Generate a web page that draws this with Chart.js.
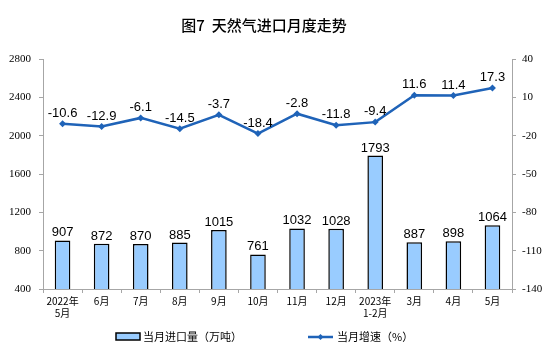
<!DOCTYPE html>
<html>
<head>
<meta charset="utf-8">
<script src="https://cdn.jsdelivr.net/npm/chart.js@4"></script>
<style>
  html, body { margin: 0; padding: 0; background: #fff; }
  #wrap { width: 550px; height: 354px; position: relative; }
</style>
</head>
<body>
<div id="wrap"><canvas id="myChart" width="550" height="354"></canvas></div>
<script>
const months = [['2022年','5月'], '6月', '7月', '8月', '9月', '10月', '11月', '12月', ['2023年','1-2月'], '3月', '4月', '5月'];
const imports = [907, 872, 870, 885, 1015, 761, 1032, 1028, 1793, 887, 898, 1064];
const growth = [-10.6, -12.9, -6.1, -14.5, -3.7, -18.4, -2.8, -11.8, -9.4, 11.6, 11.4, 17.3];
const leftTicks = [400, 800, 1200, 1600, 2000, 2400, 2800];
const rightTicks = [-140, -110, -80, -50, -20, 10, 40];

const barColor = '#99CCFF';
const lineColor = '#1F63B8';

// labels above the bars and points
const valueLabels = {
  id: 'valueLabels',
  afterDatasetsDraw(chart) {
    const ctx = chart.ctx;
    ctx.save();
    ctx.fillStyle = '#000';
    ctx.font = '13px "Liberation Sans", Arial, sans-serif';
    ctx.textAlign = 'center';
    ctx.textBaseline = 'alphabetic';
    chart.getDatasetMeta(1).data.forEach((bar, i) => {
      ctx.fillText(imports[i], bar.x, bar.y - 4);
    });
    chart.getDatasetMeta(0).data.forEach((pt, i) => {
      ctx.fillText(growth[i].toFixed(1), pt.x, pt.y - 7);
    });
    ctx.restore();
  }
};

// title and legend drawn by hand
const extras = {
  id: 'extras',
  afterDraw(chart) {
    const ctx = chart.ctx;
    ctx.save();
    ctx.fillStyle = '#000';
    ctx.font = '500 15px "Noto Sans CJK SC", sans-serif';
    ctx.textAlign = 'center';
    ctx.textBaseline = 'middle';
    ctx.fillText('图7  天然气进口月度走势', 264, 25);

    // legend
    ctx.font = '11px "Noto Sans CJK SC", sans-serif';
    ctx.textAlign = 'left';
    ctx.fillStyle = barColor;
    ctx.fillRect(116, 333, 24, 7);
    ctx.strokeStyle = '#000';
    ctx.lineWidth = 1.5;
    ctx.strokeRect(116, 333, 24, 7);
    ctx.fillStyle = '#000';
    ctx.fillText('当月进口量（万吨）', 143, 337);

    ctx.strokeStyle = lineColor;
    ctx.lineWidth = 2.5;
    ctx.beginPath();
    ctx.moveTo(308, 337);
    ctx.lineTo(333, 337);
    ctx.stroke();
    ctx.fillStyle = lineColor;
    ctx.beginPath();
    ctx.moveTo(320.5, 334);
    ctx.lineTo(323.5, 337);
    ctx.lineTo(320.5, 340);
    ctx.lineTo(317.5, 337);
    ctx.closePath();
    ctx.fill();
    ctx.fillStyle = '#000';
    ctx.fillText('当月增速（%）', 337, 337);
    ctx.restore();
  }
};

const config = {
  type: 'bar',
  data: {
    labels: months,
    datasets: [{
      type: 'line',
      label: '当月增速（%）',
      data: growth,
      yAxisID: 'y1',
      borderColor: lineColor,
      backgroundColor: lineColor,
      borderWidth: 2.5,
      pointStyle: 'rectRot',
      pointRadius: 3.5,
      pointBorderWidth: 0,
      tension: 0,
      order: 0
    }, {
      type: 'bar',
      label: '当月进口量（万吨）',
      data: imports,
      yAxisID: 'y',
      backgroundColor: barColor,
      borderColor: '#000',
      borderWidth: 1.5,
      categoryPercentage: 1,
      barPercentage: 0.4,
      order: 1
    }]
  },
  options: {
    responsive: false,
    animation: false,
    events: [],
    layout: { padding: { top: 59, bottom: 30, left: 0, right: 0 } },
    plugins: {
      legend: { display: false },
      tooltip: { enabled: false }
    },
    scales: {
      x: {
        grid: { offset: true, drawOnChartArea: false, drawTicks: true, tickLength: 4, color: '#A6A6A6' },
        border: { color: '#A6A6A6', width: 1 },
        ticks: {
          color: '#000',
          font: { family: '"Noto Sans CJK SC", sans-serif', size: 10 },
          padding: 2,
          maxRotation: 0,
          autoSkip: false
        },
        afterFit(scale) { scale.height = 35; }
      },
      y: {
        position: 'left',
        min: 400,
        max: 2800,
        afterBuildTicks(scale) { scale.ticks = leftTicks.map(v => ({ value: v })); },
        grid: { drawOnChartArea: false, drawTicks: true, tickLength: 4, color: '#A6A6A6' },
        border: { color: '#A6A6A6', width: 1 },
        ticks: {
          color: '#000',
          font: { family: '"Liberation Serif", "Times New Roman", serif', size: 11 },
          padding: 8,
          callback: (v) => String(v)
        },
        afterFit(scale) { scale.width = 43; }
      },
      y1: {
        position: 'right',
        min: -140,
        max: 40,
        afterBuildTicks(scale) { scale.ticks = rightTicks.map(v => ({ value: v })); },
        grid: { drawOnChartArea: false, drawTicks: true, tickLength: 4, color: '#A6A6A6' },
        border: { color: '#A6A6A6', width: 1 },
        ticks: {
          color: '#000',
          font: { family: '"Liberation Serif", "Times New Roman", serif', size: 11 },
          padding: 6,
          callback: (v) => String(v)
        },
        afterFit(scale) { scale.width = 38; }
      }
    }
  },
  plugins: [valueLabels, extras]
};

const myChart = new Chart(document.getElementById('myChart').getContext('2d'), config);
</script>
</body>
</html>
